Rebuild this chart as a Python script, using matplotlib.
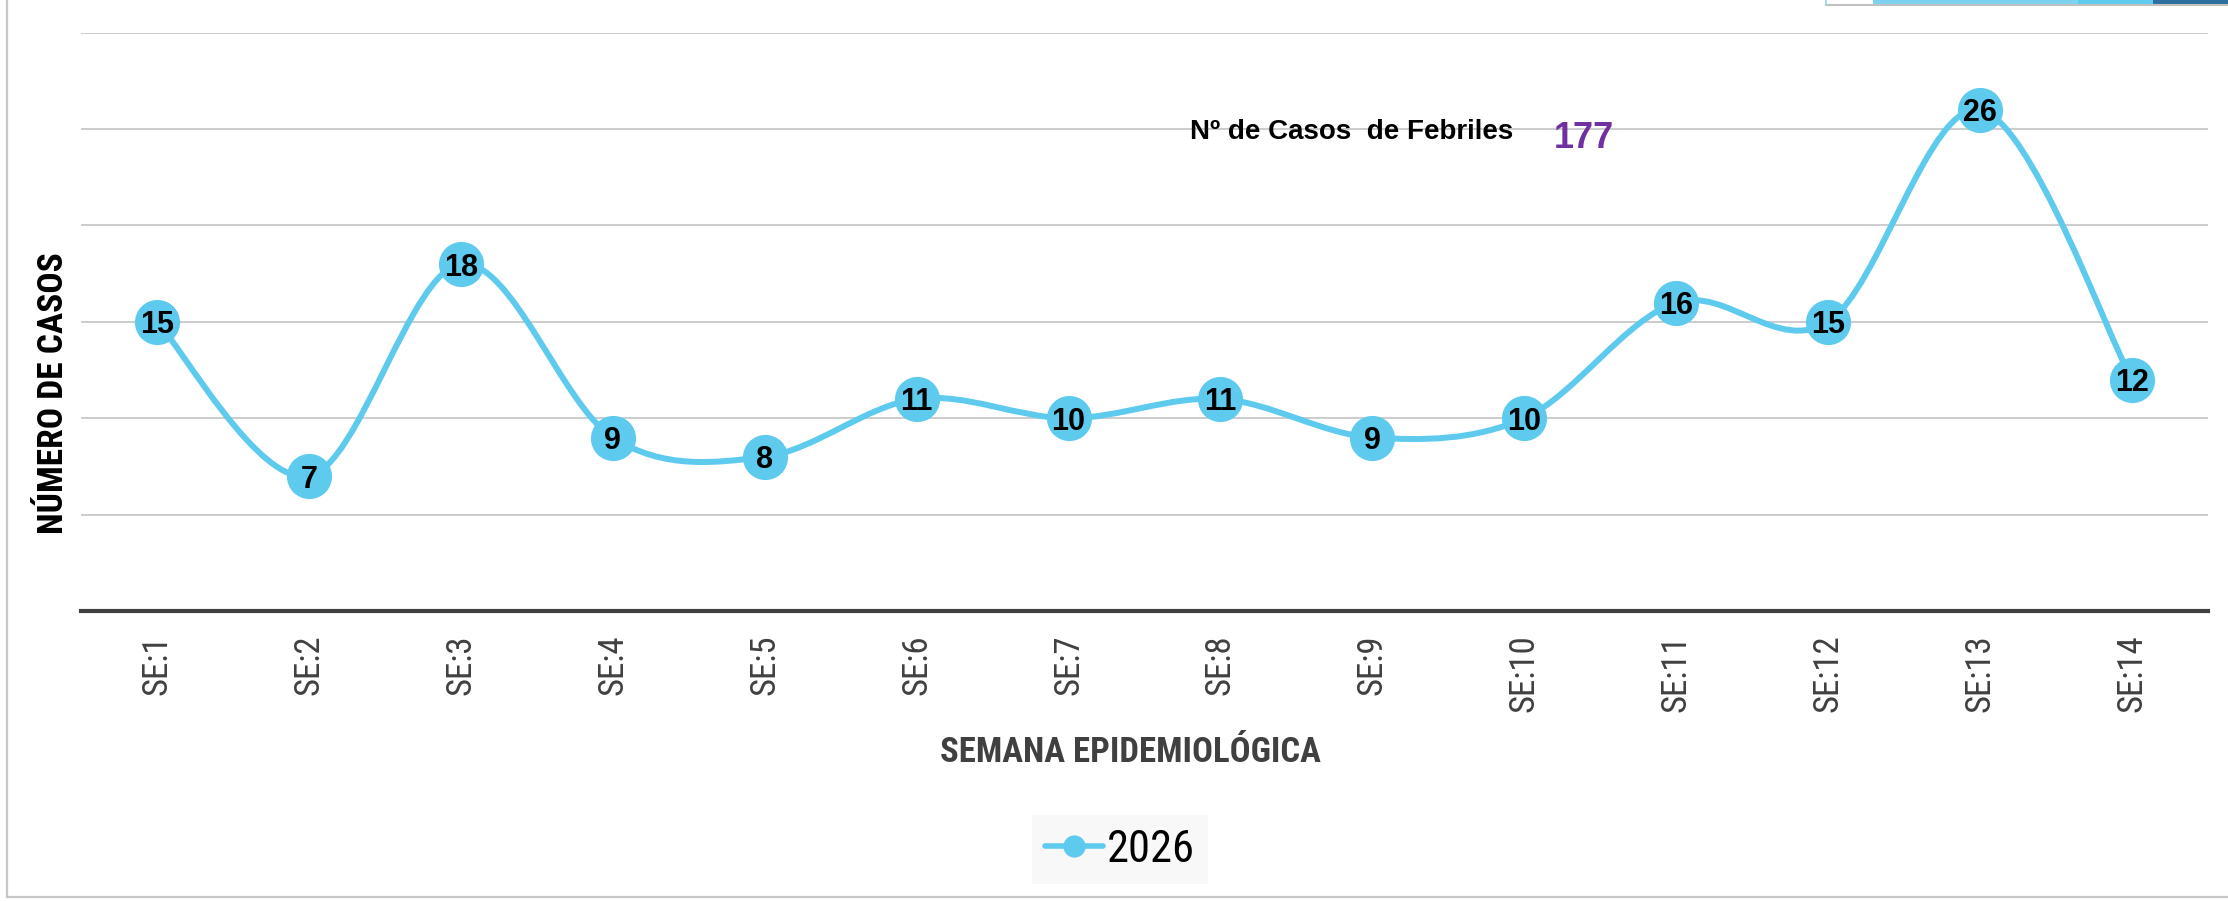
import matplotlib
matplotlib.use("Agg")
import matplotlib.pyplot as plt
from matplotlib.path import Path
from matplotlib.patches import PathPatch, Rectangle
from matplotlib.lines import Line2D
from matplotlib import font_manager as fm
import numpy as np

# ---- data ----
weeks = ["SE:1", "SE:2", "SE:3", "SE:4", "SE:5", "SE:6", "SE:7",
         "SE:8", "SE:9", "SE:10", "SE:11", "SE:12", "SE:13", "SE:14"]
cases_2026 = [15, 7, 18, 9, 8, 11, 10, 11, 9, 10, 16, 15, 26, 12]
series_name = "2026"
total_label = "Nº de Casos  de Febriles"
total_value = "177"
y_ticks = [0, 5, 10, 15, 20, 25, 30]

# ---- fonts ----
def find_narrow(bold):
    best = None
    for f in fm.fontManager.ttflist:
        nm = (f.name + " " + f.fname).lower()
        cond = ("narrow" in nm or "condensed" in nm or
                str(f.stretch) in ("condensed", "semi-condensed", "extra-condensed"))
        if not cond:
            continue
        w = f.weight if isinstance(f.weight, int) else (700 if "bold" in str(f.weight) else 400)
        isbold = w >= 600
        if isbold != bold or f.style != "normal":
            continue
        rank = 0 if "liberation" in nm else (1 if "roboto" in nm else (2 if "open" in nm else 3))
        if best is None or rank < best[0]:
            best = (rank, f.fname)
    return best[1] if best else None

names = {f.name for f in fm.fontManager.ttflist}
BOLD = "Liberation Sans" if "Liberation Sans" in names else "DejaVu Sans"
nr = find_narrow(False)
nb = find_narrow(True)
HAVE_NARROW = nr is not None and nb is not None

def narrow_prop(size, bold=False):
    if HAVE_NARROW:
        return fm.FontProperties(fname=(nb if bold else nr), size=size)
    fam = "Roboto" if "Roboto" in names else BOLD
    return fm.FontProperties(family=fam, weight=("bold" if bold else "normal"),
                             size=size * 0.85)

W, H = 2228, 901
fig = plt.figure(figsize=(W / 100, H / 100), dpi=100)
fig.patch.set_facecolor("white")

def fx(px):
    return px / W

def fy(py):
    return 1 - py / H

ax_left, ax_right, ax_top, ax_bot = 81, 2208, 32.7, 611
ax = fig.add_axes([fx(ax_left), fy(ax_bot), (ax_right - ax_left) / W, (ax_bot - ax_top) / H])

LINE_C = "#5DCAEE"
x = np.arange(len(weeks))
y = np.array(cases_2026, dtype=float)

# smooth line (Catmull-Rom style Bezier through the data points)
verts = [(x[0], y[0])]
codes = [Path.MOVETO]
n = len(x)
for i in range(n - 1):
    p0 = np.array([x[max(i - 1, 0)], y[max(i - 1, 0)]])
    p1 = np.array([x[i], y[i]])
    p2 = np.array([x[i + 1], y[i + 1]])
    p3 = np.array([x[min(i + 2, n - 1)], y[min(i + 2, n - 1)]])
    c1 = p1 + (p2 - p0) / 6.0
    c2 = p2 - (p3 - p1) / 6.0
    verts += [tuple(c1), tuple(c2), tuple(p2)]
    codes += [Path.CURVE4] * 3
ax.add_patch(PathPatch(Path(verts, codes), facecolor="none", edgecolor=LINE_C,
                       lw=4.3, capstyle="round", joinstyle="round", zorder=3))
ax.plot(x, y, linestyle="none", marker="o", markersize=32.5, color=LINE_C,
        markeredgewidth=0, zorder=4)
for xi, yi in zip(x, cases_2026):
    ax.text(xi, yi, str(yi), ha="center", va="center_baseline", fontsize=22,
            fontweight="bold", color="black", family=BOLD, zorder=5)

ax.set_xlim(-0.5, len(weeks) - 0.5)
ax.set_ylim(0, 30)
ax.set_yticks(y_ticks)
ax.set_yticklabels([])
ax.tick_params(axis="y", length=0)
ax.grid(axis="y", color="#c8c8c8", lw=1.3)
ax.set_axisbelow(True)
ax.set_xticks(x)
ax.set_xticklabels(weeks, rotation=90, color="#404040",
                   fontproperties=narrow_prop(25))
ax.tick_params(axis="x", length=0, pad=17)
for s in ["top", "right", "left"]:
    ax.spines[s].set_visible(False)
ax.spines["bottom"].set_color("#404040")
ax.spines["bottom"].set_linewidth(3)
ax.spines["bottom"].set_zorder(6)

# axis titles
fig.text(fx(54), fy(393), "NÚMERO DE CASOS", rotation=90, ha="center", va="center",
         color="black", fontproperties=narrow_prop(25.5, bold=True))
fig.text(fx(1130), fy(752), "SEMANA EPIDEMIOLÓGICA", ha="center", va="center",
         color="#404040", fontproperties=narrow_prop(25, bold=True))

# total annotation
fig.text(fx(1190), fy(139), total_label, ha="left", va="baseline",
         fontsize=20, fontweight="bold", color="black", family=BOLD)
fig.text(fx(1554), fy(148), total_value, ha="left", va="baseline",
         fontsize=26, fontweight="bold", color="#7030A0", family=BOLD)

# legend
handle = Line2D([], [], color=LINE_C, lw=4, marker="o", markersize=16,
                markeredgewidth=0, solid_capstyle="round")
leg = fig.legend([handle], [series_name], loc="center",
                 bbox_to_anchor=(fx(1120), fy(849.5)), bbox_transform=fig.transFigure,
                 prop=narrow_prop(32), frameon=True, fancybox=False,
                 facecolor="#f8f8f8", edgecolor="none", framealpha=1,
                 handlelength=1.3, handletextpad=0.1, borderpad=0.3, borderaxespad=0)

# outer frame and top-right strip
fig.add_artist(Line2D([fx(7), fx(7)], [fy(0), fy(897)], color="#c8c8c8", lw=1.6,
                      transform=fig.transFigure))
fig.add_artist(Line2D([fx(7), fx(W)], [fy(897), fy(897)], color="#c8c8c8", lw=1.6,
                      transform=fig.transFigure))
fig.add_artist(Line2D([fx(1826), fx(W)], [fy(5), fy(5)], color="#c0c0c0", lw=1.5,
                      transform=fig.transFigure))
fig.add_artist(Line2D([fx(1826), fx(1826)], [fy(0), fy(5)], color="#9ad8ee", lw=1.2,
                      transform=fig.transFigure))
for x0, x1, c in [(1873, 2078, "#7DD3EF"), (2078, 2153, "#5ECBEE"), (2153, W, "#2C6F9F")]:
    fig.add_artist(Rectangle((fx(x0), fy(4.5)), (x1 - x0) / W, 4.5 / H, color=c, lw=0,
                             transform=fig.transFigure))

fig.savefig("out.png", dpi=100)
